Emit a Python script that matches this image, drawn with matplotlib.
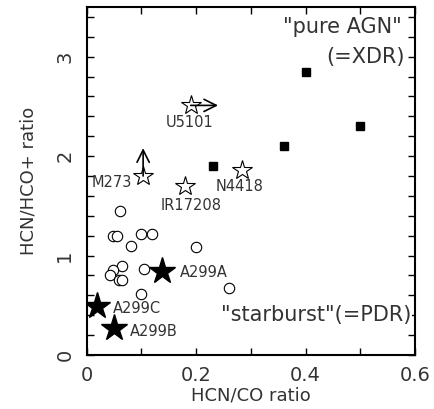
import matplotlib
matplotlib.use('Agg')
import matplotlib.pyplot as plt
from matplotlib.ticker import MultipleLocator

# open circles (starburst galaxies)
circ_x = [0.06, 0.048, 0.055, 0.10, 0.12, 0.08, 0.20, 0.065, 0.047, 0.042, 0.059, 0.065, 0.104, 0.26, 0.10]
circ_y = [1.45, 1.20, 1.20, 1.22, 1.22, 1.10, 1.09, 0.90, 0.85, 0.80, 0.755, 0.755, 0.86, 0.67, 0.61]

# filled squares (AGN)
sq_x = [0.23, 0.36, 0.40, 0.50]
sq_y = [1.90, 2.10, 2.85, 2.30]

# open stars
ostar_names = ['U5101', 'M273', 'IR17208', 'N4418']
ostar_x = [0.19, 0.103, 0.179, 0.283]
ostar_y = [2.51, 1.80, 1.70, 1.86]

# filled stars
fstar_names = ['A299A', 'A299C', 'A299B']
fstar_x = [0.138, 0.018, 0.049]
fstar_y = [0.84, 0.49, 0.27]

# lower limits: U5101 in x, M273 in y
u5101_xlim = 0.24
m273_ylim = 2.08

txt_col = '#333333'

fig = plt.figure(figsize=(4.34, 4.09), dpi=100)
ax = fig.add_axes([0.2, 0.132, 0.756, 0.851])

ax.plot(circ_x, circ_y, 'o', ms=7.5, mfc='white', mec='black', mew=0.8, ls='none')
ax.plot(sq_x, sq_y, 's', ms=6, color='black', ls='none')
ax.plot(ostar_x, ostar_y, '*', ms=15, mfc='white', mec='black', mew=0.8, ls='none')
ax.plot(fstar_x, fstar_y, '*', ms=20, color='black', ls='none')

# limit arrows
arr = dict(arrowstyle='->', color='black', lw=1.2, mutation_scale=22, shrinkA=0, shrinkB=0)
ax.annotate('', xy=(u5101_xlim, ostar_y[0]), xytext=(ostar_x[0], ostar_y[0]), arrowprops=arr)
ax.annotate('', xy=(ostar_x[1], m273_ylim), xytext=(ostar_x[1], ostar_y[1]), arrowprops=arr)

fs = 10.5
ax.text(0.188, 2.34, 'U5101', ha='center', va='center', fontsize=fs, color=txt_col)
ax.text(0.082, 1.73, 'M273', ha='right', va='center', fontsize=fs, color=txt_col)
ax.text(0.19, 1.50, 'IR17208', ha='center', va='center', fontsize=fs, color=txt_col)
ax.text(0.28, 1.69, 'N4418', ha='center', va='center', fontsize=fs, color=txt_col)
ax.text(0.170, 0.83, 'A299A', ha='left', va='center', fontsize=fs, color=txt_col)
ax.text(0.048, 0.47, 'A299C', ha='left', va='center', fontsize=fs, color=txt_col)
ax.text(0.079, 0.24, 'A299B', ha='left', va='center', fontsize=fs, color=txt_col)

box = dict(fc='white', ec='none', pad=0.5)
ax.text(0.576, 3.30, '"pure AGN"', ha='right', va='center', fontsize=15, color=txt_col, bbox=box)
ax.text(0.582, 3.0, '(=XDR)', ha='right', va='center', fontsize=15, color=txt_col, bbox=box)
ax.text(0.594, 0.40, '"starburst"(=PDR)', ha='right', va='center', fontsize=15, color=txt_col, bbox=box)

ax.set_xlim(0, 0.6)
ax.set_ylim(0, 3.5)
ax.xaxis.set_major_locator(MultipleLocator(0.2))
ax.xaxis.set_minor_locator(MultipleLocator(0.1))
ax.yaxis.set_major_locator(MultipleLocator(1))
ax.yaxis.set_minor_locator(MultipleLocator(0.2))
ax.tick_params(which='both', direction='in', top=True, right=True, length=5, width=1,
               labelsize=14, colors='black')
ax.tick_params(axis='x', pad=8)
ax.tick_params(axis='y', pad=9)
ax.set_xticks([0, 0.2, 0.4, 0.6])
ax.set_xticklabels(['0', '0.2', '0.4', '0.6'], color=txt_col)
for lab in ax.get_yticklabels():
    lab.set_rotation(90)
    lab.set_va('center')
    lab.set_color(txt_col)
for sp in ax.spines.values():
    sp.set_linewidth(1.5)

ax.set_xlabel('HCN/CO ratio', fontsize=13, color=txt_col, labelpad=1)
ax.set_ylabel('HCN/HCO+ ratio', fontsize=13, color=txt_col, labelpad=13)

fig.savefig('out.png', dpi=100)
